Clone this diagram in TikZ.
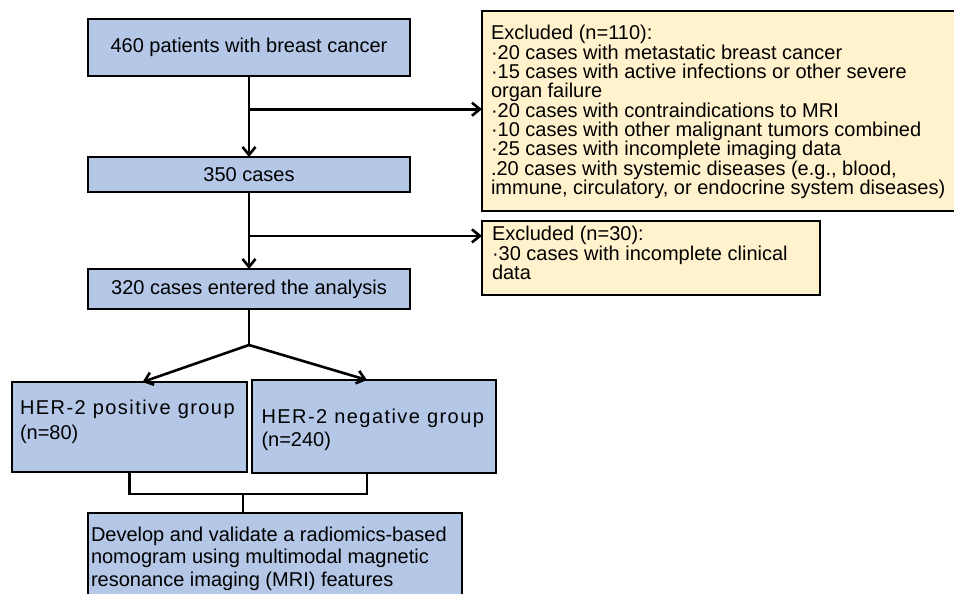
\documentclass[tikz,border=0pt]{standalone}
\usepackage{fontspec}
\setmainfont{Liberation Sans}
\usetikzlibrary{arrows.meta, positioning, calc}
\definecolor{flowBlue}{RGB}{180,199,231}
\definecolor{flowYellow}{RGB}{255,242,204}
\newcommand{\topbox}[3]{\parbox[c][#2][t]{#1}{\raggedright #3}}
\newcommand{\wide}[1]{\mbox{\addfontfeature{LetterSpace=7.25}#1}}

\begin{document}
\begin{tikzpicture}[
		x=1pt, y=-1pt,
		box/.style={draw, fill=flowBlue, line width=2.6pt, outer sep=0pt, inner sep=0pt, minimum width=322pt, font=\fontsize{20}{24}\selectfont},
		grpbox/.style={draw, fill=flowBlue, line width=2.6pt, outer sep=0pt, anchor=north west, inner xsep=8pt, font=\fontsize{20}{24}\selectfont},
		exbox/.style={draw, fill=flowYellow, line width=2.6pt, outer sep=0pt, anchor=north west, inner xsep=9pt, font=\fontsize{20}{19.3}\selectfont},
		line/.style={line width=2.6pt},
		arr/.style={-{Straight Barb[length=8pt, width=13pt]}, line width=2.6pt}
	]
	\useasboundingbox (0,0) rectangle (954,594);

	% main flow
	\node[box, minimum height=57pt] (start) at (249,47.5) {460 patients with breast cancer};
	\node[box, minimum height=35pt, below=81pt of start] (n350) {350 cases};
	\node[box, minimum height=40pt, below=77pt of n350] (n320) {320 cases entered the analysis};

	% exclusions
	\node[exbox, inner ysep=14.5pt] (excl1) at (482,11) {\topbox{480pt}{171pt}{Excluded (n=110):\\
		·20 cases with metastatic breast cancer\\
		·15 cases with active infections or other severe\\
		organ failure\\
		·20 cases with contraindications to MRI\\
		·10 cases with other malignant tumors combined\\
		·25 cases with incomplete imaging data\\
		.20 cases with systemic diseases (e.g., blood,\\
		immune, circulatory, or endocrine system diseases)}};
	\node[exbox, inner xsep=10pt, inner ysep=5.5pt] (excl2) at (482,221) {\topbox{318pt}{63pt}{Excluded (n=30):\\
		·30 cases with incomplete clinical\\
		data}};

	% groups
	\node[grpbox, inner ysep=18pt, font=\fontsize{20}{25}\selectfont] (pos) at (12,382) {\topbox{219pt}{54pt}{\wide{HER-2 positive group}\\(n=80)}};
	\node[grpbox, inner xsep=9.5pt, inner ysep=29pt, font=\fontsize{20}{23}\selectfont] (neg) at (252,380) {\topbox{225pt}{35pt}{\wide{HER-2 negative group}\\(n=240)}};
	\node[grpbox, inner xsep=3pt, inner ysep=14pt, font=\fontsize{20}{22.5}\selectfont] (result) at (88,513) {\topbox{368pt}{90pt}{Develop and validate a radiomics-based\\
		nomogram using multimodal magnetic\\
		resonance imaging (MRI) features}};

	% connectors
	\coordinate (split1) at ($(start.south)!0.41!(n350.north)$);
	\coordinate (split2) at ($(n350.south)!0.57!(n320.north)$);
	\coordinate (fork) at ([yshift=-36pt]n320.south);

	\draw[arr] (start) -- (n350);
	\draw[arr] (split1) -- (split1 -| excl1.west);
	\draw[arr] (n350) -- (n320);
	\draw[arr] (split2) -- (split2 -| excl2.west);
	\draw[line] (n320) -- (fork);
	\draw[arr] (fork) -- ([xshift=13pt]pos.north);
	\draw[arr] (fork) -- ([xshift=-7pt]neg.north);
	\draw[line] (pos.south) -- ++(0,22) -| ([xshift=-7pt]neg.south);
	\draw[line] ([xshift=-32pt]result.north) -- ++(0,-19);
\end{tikzpicture}
\end{document}
